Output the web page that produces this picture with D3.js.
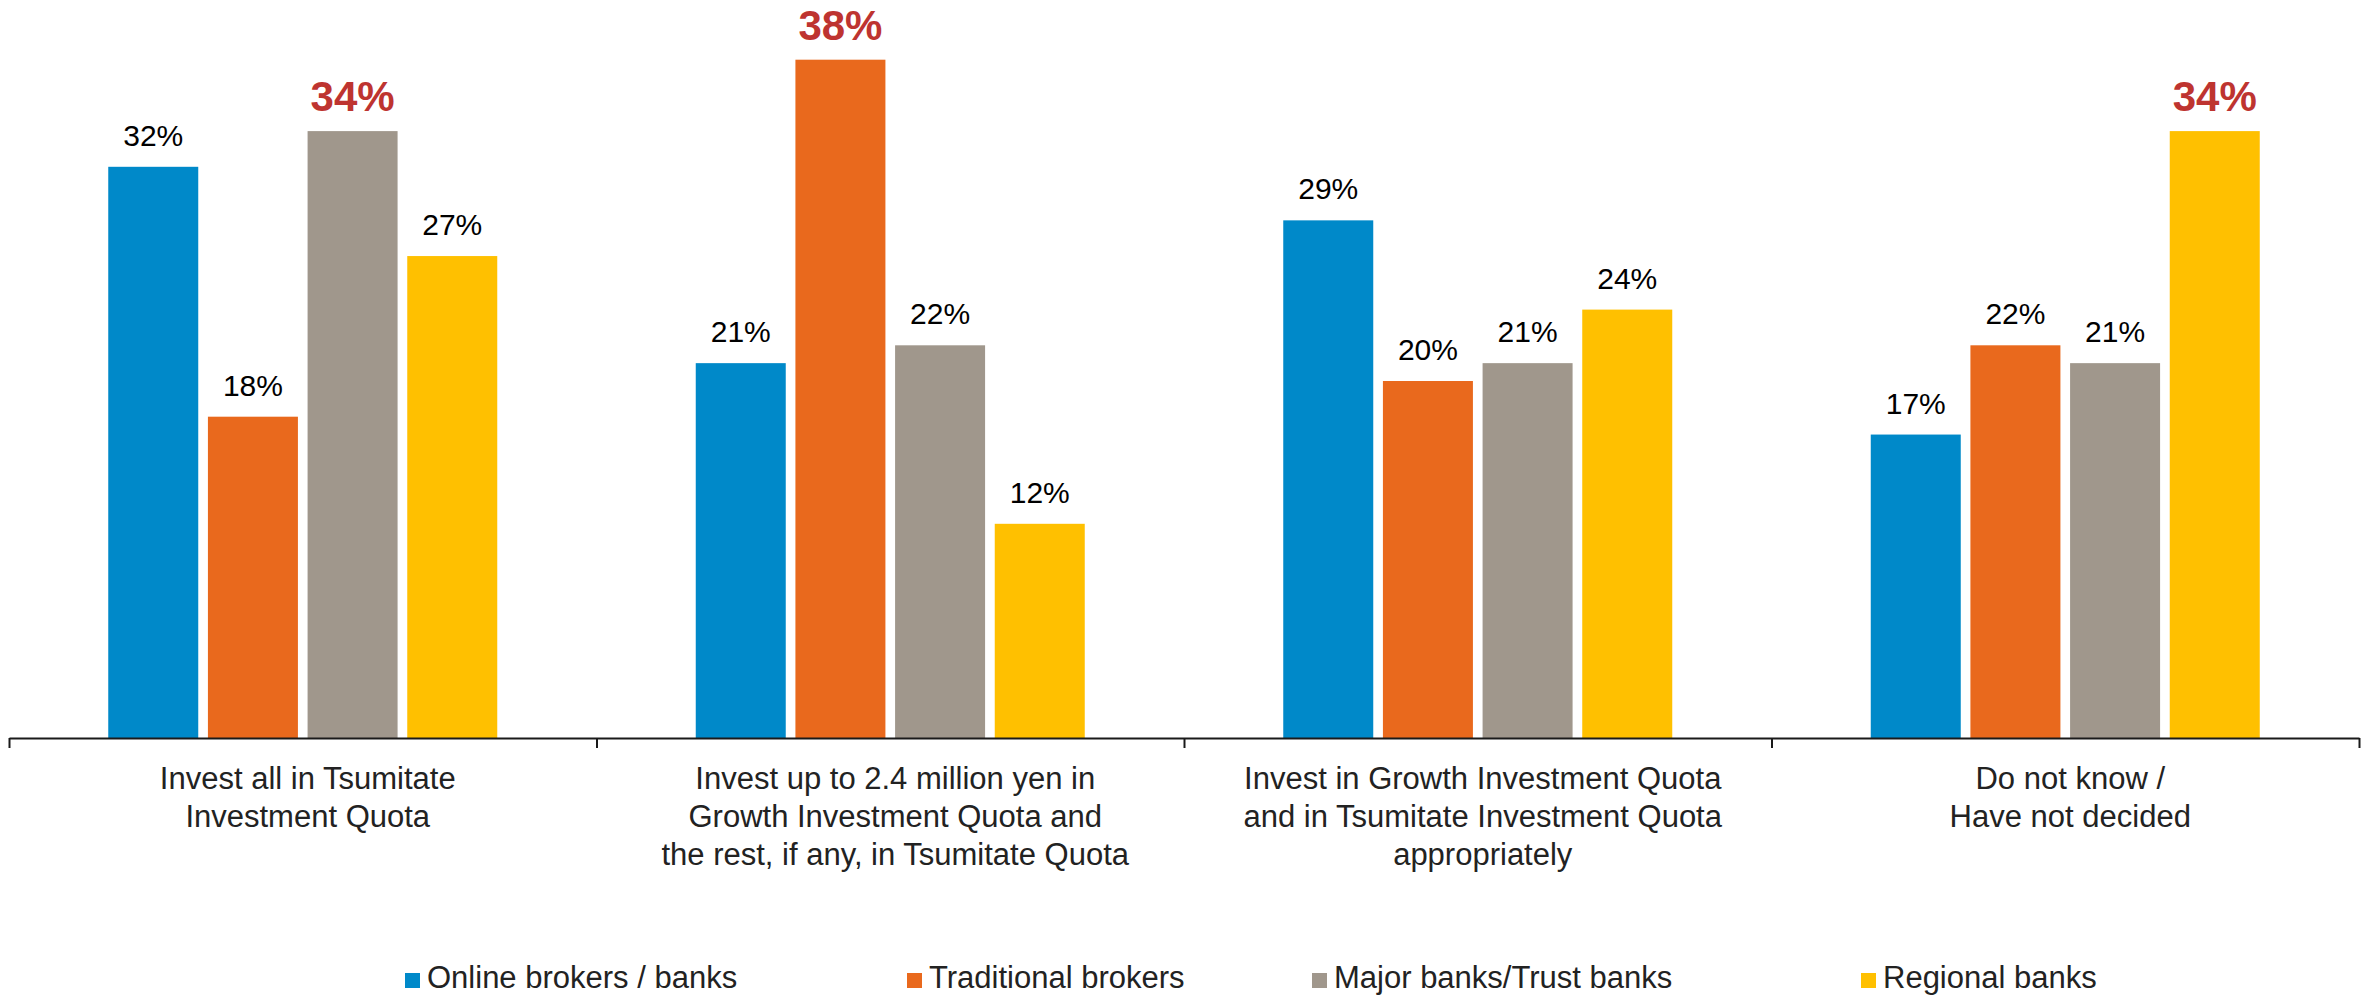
<!DOCTYPE html>
<html>
<head>
<meta charset="utf-8">
<script src="https://cdn.jsdelivr.net/npm/d3@7"></script>
<style>
  html, body { margin: 0; padding: 0; background: #ffffff; }
  svg { display: block; }
  text { font-family: "Liberation Sans", Arial, sans-serif; }
</style>
</head>
<body>
<svg id="chart" width="2362" height="995"></svg>
<script>
// Survey answers by account type (share of respondents, %)
const categories = [
  ["Invest all in Tsumitate", "Investment Quota"],
  ["Invest up to 2.4 million yen in", "Growth Investment Quota and", "the rest, if any, in Tsumitate Quota"],
  ["Invest in Growth Investment Quota", "and in Tsumitate Investment Quota", "appropriately"],
  ["Do not know /", "Have not decided"]
];
const seriesNames = ["Online brokers / banks", "Traditional brokers", "Major banks/Trust banks", "Regional banks"];
const onlineValues      = [32, 21, 29, 17];
const traditionalValues = [18, 38, 20, 22];
const majorValues       = [34, 22, 21, 21];
const regionalValues    = [27, 12, 24, 34];
// Which bar in each category gets the emphasised label (series index)
const emphasised = [2, 1, null, 3];

const seriesValues = [onlineValues, traditionalValues, majorValues, regionalValues];
const colors = ["#0089C9", "#E9691D", "#A0978C", "#FFC000"];
const legendX = [405, 907, 1312, 1861];

const svg = d3.select("#chart");
const axisY = 738;
const left = 9, right = 2359;

const x0 = d3.scaleBand()
  .domain(d3.range(categories.length))
  .range([left, right])
  .padding(0);

const groupPad = 99.25;
const x1 = d3.scaleBand()
  .domain(d3.range(seriesNames.length))
  .range([groupPad, x0.bandwidth() - groupPad])
  .paddingInner(0.097)
  .paddingOuter(0);

const y = d3.scaleLinear()
  .domain([0, 38])
  .range([axisY, axisY - 38 * 17.85]);

// Flatten into drawable records
const records = [];
categories.forEach((c, ci) => {
  seriesValues.forEach((vals, si) => {
    records.push({ ci, si, value: vals[ci], hi: emphasised[ci] === si });
  });
});

const bars = svg.append("g");
bars.selectAll("rect")
  .data(records)
  .join("rect")
  .attr("x", d => x0(d.ci) + x1(d.si))
  .attr("y", d => y(d.value))
  .attr("width", x1.bandwidth())
  .attr("height", d => y(0) - y(d.value))
  .attr("fill", d => colors[d.si]);

// Value labels
svg.append("g").selectAll("text")
  .data(records)
  .join("text")
  .attr("x", d => x0(d.ci) + x1(d.si) + x1.bandwidth() / 2)
  .attr("y", d => y(d.value) - (d.hi ? 20 : 21))
  .attr("text-anchor", "middle")
  .attr("font-size", d => d.hi ? 42 : 30)
  .attr("font-weight", d => d.hi ? "bold" : "normal")
  .attr("fill", d => d.hi ? "#BE3430" : "#000000")
  .text(d => d.value + "%");

// Category axis with ticks at the group boundaries
const boundary = d3.scaleLinear().domain([0, categories.length]).range([left, right]);
const axis = svg.append("g")
  .attr("transform", `translate(0,${axisY})`)
  .call(d3.axisBottom(boundary)
    .tickValues(d3.range(categories.length + 1))
    .tickSize(10)
    .tickSizeOuter(0)
    .tickFormat(""));
axis.select(".domain").attr("stroke", "#1a1a1a").attr("stroke-width", 2);
axis.selectAll(".tick line").attr("stroke", "#1a1a1a").attr("stroke-width", 2);

// Category labels (multi-line)
const catLabels = svg.append("g").selectAll("text")
  .data(categories)
  .join("text")
  .attr("x", (d, i) => x0(i) + x0.bandwidth() / 2 + 5)
  .attr("y", 789)
  .attr("text-anchor", "middle")
  .attr("font-size", 31)
  .attr("fill", "#222222");
catLabels.each(function(lines) {
  const t = d3.select(this);
  const cx = t.attr("x");
  lines.forEach((line, li) => {
    t.append("tspan")
      .attr("x", cx)
      .attr("dy", li === 0 ? 0 : 38)
      .text(line);
  });
});

// Legend
const legend = svg.append("g").selectAll("g")
  .data(seriesNames)
  .join("g")
  .attr("transform", (d, i) => `translate(${legendX[i]},0)`);
legend.append("rect")
  .attr("x", 0).attr("y", 973)
  .attr("width", 15).attr("height", 15)
  .attr("fill", (d, i) => colors[i]);
legend.append("text")
  .attr("x", 22).attr("y", 988)
  .attr("font-size", 31)
  .attr("fill", "#222222")
  .text(d => d);
</script>
</body>
</html>
